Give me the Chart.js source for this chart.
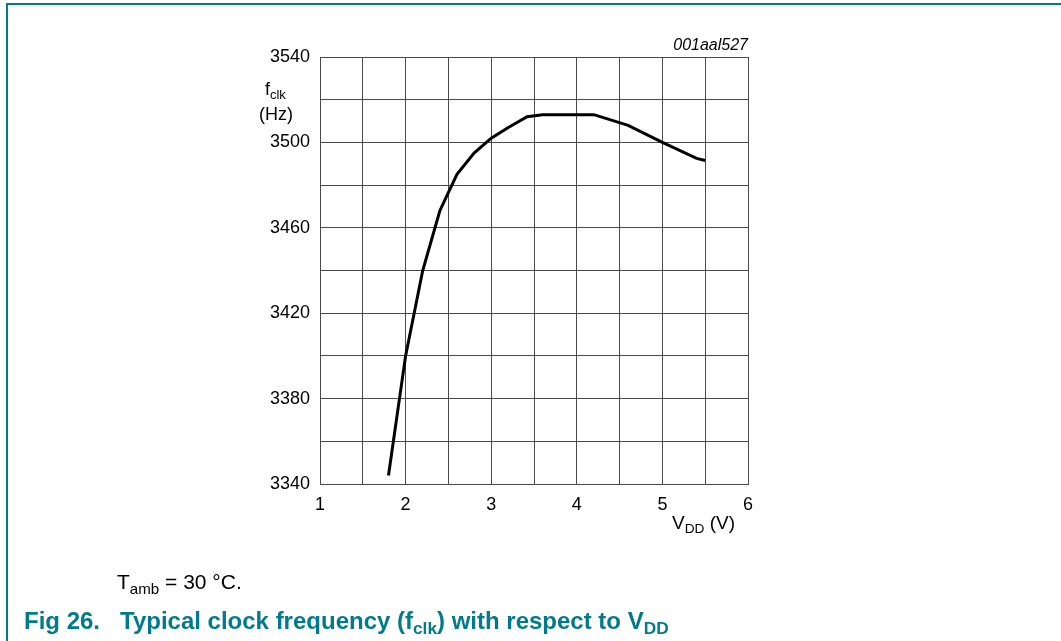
<!DOCTYPE html>
<html>
<head>
<meta charset="utf-8">
<script src="https://cdn.jsdelivr.net/npm/chart.js@4"></script>
<style>
  html, body { margin: 0; padding: 0; background: #fff; }
  body { width: 1061px; height: 641px; position: relative; overflow: hidden;
         font-family: "Liberation Sans", Arial, sans-serif; color: #000; }
  #frame { position: absolute; left: 6px; top: 3px; width: 1100px; height: 700px;
           border-left: 2px solid #007a8c; border-top: 2px solid #007a8c; }
  #wrap { position: absolute; left: 0; top: 0; width: 1061px; height: 641px; }
  .t { position: absolute; white-space: nowrap; line-height: 1; }
  sub { font-size: 0.72em; vertical-align: -0.3em; line-height: 0; }
  .cap { color: #007a8c; font-weight: bold; font-size: 24px; }
</style>
</head>
<body>
<div id="frame"></div>
<div id="wrap"><canvas id="fclk_chart" width="1061" height="641"></canvas></div>

<div class="t" style="left:638px; top:37px; width:110px; text-align:right; font-style:italic; font-size:16px;">001aal527</div>
<div class="t" style="left:265px; top:80px; font-size:18px;">f<sub>clk</sub></div>
<div class="t" style="left:259px; top:105px; font-size:18px;">(Hz)</div>
<div class="t" style="left:672px; top:513px; font-size:19px;">V<sub>DD</sub> (V)</div>
<div class="t" style="left:117px; top:571px; font-size:21px;">T<sub>amb</sub> = 30 °C.</div>
<div class="t cap" style="left:24px; top:609px;">Fig 26.</div>
<div class="t cap" style="left:120px; top:609px;">Typical clock frequency (f<sub>clk</sub>) with respect to V<sub>DD</sub></div>

<script>
const vdd  = [1.80, 2.00, 2.20, 2.40, 2.60, 2.80, 3.00, 3.20, 3.42, 3.60, 4.20, 4.60, 5.00, 5.40, 5.50];
const fclk = [3344, 3400, 3440, 3468, 3485, 3495, 3502, 3507, 3512, 3513, 3513, 3508, 3500, 3492.5, 3491.5];

const xTicks = [1, 2, 3, 4, 5, 6];
const yTicks = [3340, 3380, 3420, 3460, 3500, 3540];

const points = vdd.map((v, i) => ({ x: v, y: fclk[i] }));

const tickFont = { family: '"Liberation Sans", Arial, sans-serif', size: 18 };
const gridColor = '#4a4a4a';

const ctx = document.getElementById('fclk_chart').getContext('2d');
new Chart(ctx, {
  type: 'scatter',
  data: {
    datasets: [{
      label: 'fclk',
      data: points,
      showLine: true,
      borderColor: '#000',
      borderWidth: 3,
      pointRadius: 0,
      tension: 0,
      fill: false
    }]
  },
  options: {
    responsive: false,
    animation: false,
    layout: { padding: { left: 250, right: 313, top: 57, bottom: 127 } },
    plugins: { legend: { display: false }, tooltip: { enabled: false } },
    scales: {
      x: {
        type: 'linear',
        min: 1, max: 6,
        grid: { color: gridColor, lineWidth: 1, drawTicks: false },
        border: { color: gridColor },
        ticks: {
          stepSize: 0.5,
          padding: 10,
          color: '#000',
          font: tickFont,
          maxRotation: 0,
          autoSkip: false,
          callback: v => xTicks.includes(v) ? String(v) : ''
        },
        afterFit: s => { s.height = 30; }
      },
      y: {
        type: 'linear',
        min: 3340, max: 3540,
        grid: { color: gridColor, lineWidth: 1, drawTicks: false },
        border: { color: gridColor },
        ticks: {
          stepSize: 20,
          padding: 10,
          color: '#000',
          font: tickFont,
          autoSkip: false,
          callback: v => yTicks.includes(v) ? String(v) : ''
        },
        afterFit: s => { s.width = 70; }
      }
    }
  }
});
</script>
</body>
</html>
